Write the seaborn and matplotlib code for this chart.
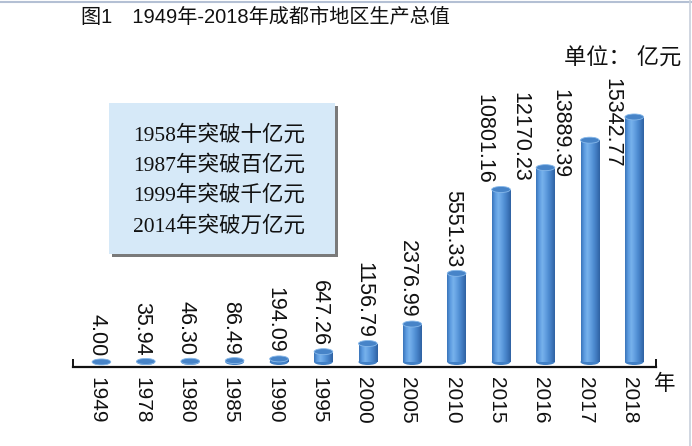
import numpy as np
import pandas as pd
import matplotlib
matplotlib.use("Agg")
import matplotlib.pyplot as plt
import seaborn as sns
from matplotlib.patches import Ellipse, Rectangle
from matplotlib.colors import LinearSegmentedColormap
from matplotlib.lines import Line2D

# ---- data ----
years = ["1949", "1978", "1980", "1985", "1990", "1995", "2000",
         "2005", "2010", "2015", "2016", "2017", "2018"]
gdp = [4.00, 35.94, 46.30, 86.49, 194.09, 647.26, 1156.79,
       2376.99, 5551.33, 10801.16, 12170.23, 13889.39, 15342.77]
value_labels = ["4.00", "35.94", "46.30", "86.49", "194.09", "647.26", "1156.79",
                "2376.99", "5551.33", "10801.16", "12170.23", "13889.39", "15342.77"]
title = "图1　1949年-2018年成都市地区生产总值"
unit_text = "单位： 亿元"
axis_unit = "年"
notes = ["1958年突破十亿元", "1987年突破百亿元", "1999年突破千亿元", "2014年突破万亿元"]

# ---- layout (pixel nudges for value labels) ----
label_nudge = [(0, 6)] * 9 + [(-13, 6), (-21, -14), (-26, -38), (-18, -51)]

sns.set_theme(style="white")
plt.rcParams['font.family'] = ['Liberation Sans', 'Noto Sans CJK SC']
plt.rcParams['axes.unicode_minus'] = False

W, H = 692, 446
fig = plt.figure(figsize=(W / 100, H / 100), dpi=100)
fig.patch.set_facecolor("white")

ax_left, ax_right, ax_base, ax_top = 73, 656, 367, 40
ax = fig.add_axes([ax_left / W, (H - ax_base) / H,
                   (ax_right - ax_left) / W, (ax_base - ax_top) / H])
ax.set_facecolor("none")

df = pd.DataFrame({"year": years, "gdp": gdp})
sns.barplot(data=df, x="year", y="gdp", ax=ax, width=0.42, color="#5b9bd5",
            saturation=1, errorbar=None)

px_per_unit = 0.01597
ymin = -5 / px_per_unit
ymax = ymin + (ax_base - ax_top) / px_per_unit

ell_h = 6 / px_per_unit
cmap = LinearSegmentedColormap.from_list(
    "cyl", ["#3a75ba", "#5c9be0", "#77b2ec", "#64a1e2", "#4f8dd2", "#3f78bd", "#2f62a2"])
grad = np.linspace(0, 1, 64).reshape(1, -1)

shift = 0.1
for p in ax.patches:
    x0 = p.get_x() + shift
    w = p.get_width()
    h = p.get_height()
    p.set_x(x0)
    p.set_facecolor("none")
    p.set_edgecolor("none")
    cx = x0 + w / 2
    ax.add_patch(Ellipse((cx, 0), w, ell_h, facecolor="#4180c6",
                         edgecolor="none", zorder=2))
    im = ax.imshow(grad, extent=(x0, x0 + w, 0, h), aspect="auto",
                   cmap=cmap, zorder=3, interpolation="bilinear")
    im.set_clip_path(p)
    ax.add_patch(Ellipse((cx, h), w, ell_h, facecolor="#4784c8",
                         edgecolor="#86b8ea", linewidth=0.6, zorder=4))
ax.set_xlim(-0.54, 12.59)
ax.set_ylim(ymin, ymax)

for i, (v, lab) in enumerate(zip(gdp, value_labels)):
    dx, dy = label_nudge[i]
    ax.annotate(lab, xy=(i, v), xytext=(dx, dy), textcoords="offset pixels",
                rotation=270, ha="center", va="bottom", fontsize=15.5,
                color="#111111", annotation_clip=False, zorder=6)

# axes styling
for s in ["top", "right", "left"]:
    ax.spines[s].set_visible(False)
ax.spines["bottom"].set_color("#111111")
ax.spines["bottom"].set_linewidth(1.6)
ax.set_yticks([])
ax.set_xlabel("")
ax.set_ylabel("")
ax.tick_params(axis="x", which="major", length=0, pad=7, labelsize=15,
               labelcolor="#111111")
for t in ax.get_xticklabels():
    t.set_rotation(270)
    t.set_ha("center")
    t.set_va("top")
ax.set_xticks([-0.54, 12.59], minor=True)
ax.tick_params(axis="x", which="minor", direction="in", length=6, width=1.4,
               color="#111111", bottom=True)

# title and unit texts
fig.text(265 / W, 1 - 17 / H, title, ha="center", va="center", fontsize=14.5,
         color="#111111", fontweight="medium")
fig.text(681 / W, 1 - 59 / H, unit_text, ha="right", va="center", fontsize=16,
         color="#111111")
fig.text(665 / W, 1 - 385 / H, axis_unit, ha="center", va="center", fontsize=15.5,
         color="#111111")

# note box with shadow
bx0, bx1, by0, by1 = 109, 335, 103, 254
fig.add_artist(Rectangle(((bx0 + 3) / W, 1 - (by1 + 3) / H), (bx1 - bx0) / W,
                         (by1 - by0) / H, transform=fig.transFigure,
                         facecolor="#7a7a7a", edgecolor="none", zorder=1))
fig.add_artist(Rectangle((bx0 / W, 1 - by1 / H), (bx1 - bx0) / W,
                         (by1 - by0) / H, transform=fig.transFigure,
                         facecolor="#d6e9f8", edgecolor="none", zorder=2))
for k, line in enumerate(notes):
    fig.text(133 / W, 1 - (135 + 30.3 * k) / H, line, ha="left", va="center",
             fontsize=15.5, color="#111111",
             family=["Liberation Serif", "Noto Sans CJK SC"], zorder=3)

# image frame lines (top and right)
fig.add_artist(Line2D([0, 1], [1 - 1.5 / H, 1 - 1.5 / H], transform=fig.transFigure,
                      color="#b4c0d4", linewidth=1.5))
fig.add_artist(Line2D([689.5 / W, 689.5 / W], [0, 1], transform=fig.transFigure,
                      color="#c8d0dc", linewidth=1.2))

fig.savefig("out.png", dpi=100)
